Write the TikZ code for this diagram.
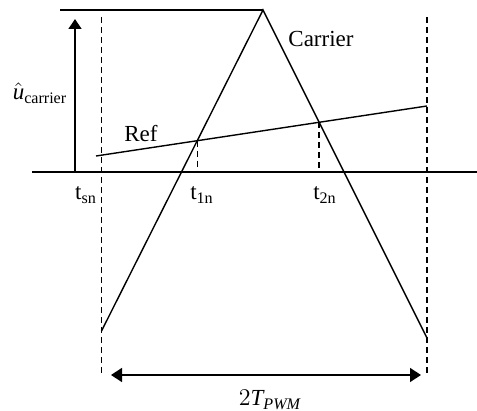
\documentclass[tikz,border=0pt]{standalone}
\usepackage{amsmath}
\usepackage{fontspec}
\setmainfont{Liberation Serif}
\usetikzlibrary{arrows.meta,intersections}
\begin{document}
\begin{tikzpicture}[x=0.5pt,y=-0.5pt, line width=0.7pt,
  dsh/.style={dash pattern=on 3pt off 2pt},
  lbl/.style={font=\fontsize{11.5}{13}\selectfont, inner sep=0pt},
  tipv/.style={-{Triangle[length=5pt,width=6.5pt]}},
  tiph/.style={{Triangle[length=5.5pt,width=7pt]}-{Triangle[length=5.5pt,width=7pt]}}]
\useasboundingbox (0,0) rectangle (477,411);
\coordinate (peak) at (263,10);
\coordinate (topL) at (60,10);
\coordinate (axL) at (32,172);
\coordinate (axR) at (477,172);
\coordinate (cL) at (101.5,331);
\coordinate (cR) at (427,338);
\coordinate (rL) at (96,156);
\coordinate (rR) at (427,106);
\coordinate (dLt) at (101.5,17);
\coordinate (dLb) at (101.5,376);
\coordinate (dRt) at (427,17);
\coordinate (dRb) at (427,376);
\coordinate (aB) at (75,172);
\coordinate (aT) at (75,19);
\coordinate (hL) at (111,375);
\coordinate (hR) at (421,375);

\draw (topL) -- (peak);
\draw (axL) -- (axR);
\draw[name path=car] (cL) -- (peak) -- (cR);
\draw[name path=ref] (rL) -- (rR);
\path[name intersections={of=car and ref, by={i1,i2}}];
\draw[dsh] (i1) -- (i1 |- axL);
\draw[dsh] (i2) -- (i2 |- axL);
\draw[dsh] (dLt) -- (dLb);
\draw[dsh] (dRt) -- (dRb);
\draw[tipv] (aB) -- (aT);
\draw[tiph] (hL) -- (hR);

\node[lbl] (carrier) at (321,39) {Carrier};
\node[lbl] (ref) at (141,134) {Ref};
\node[lbl] (uhat) at (40,93) {$\hat{\mathit{u}}_{\text{carrier}}$};
\node[lbl] (tsn) at (86,195) {$\text{t}_{\text{sn}}$};
\node[lbl] (t1n) at (202,195) {$\text{t}_{\text{1n}}$};
\node[lbl] (t2n) at (325,195) {$\text{t}_{\text{2n}}$};
\node[lbl] (tpwm) at (270,400) {$2\mathit{T}_{\mathit{PWM}}$};
\end{tikzpicture}
\end{document}
